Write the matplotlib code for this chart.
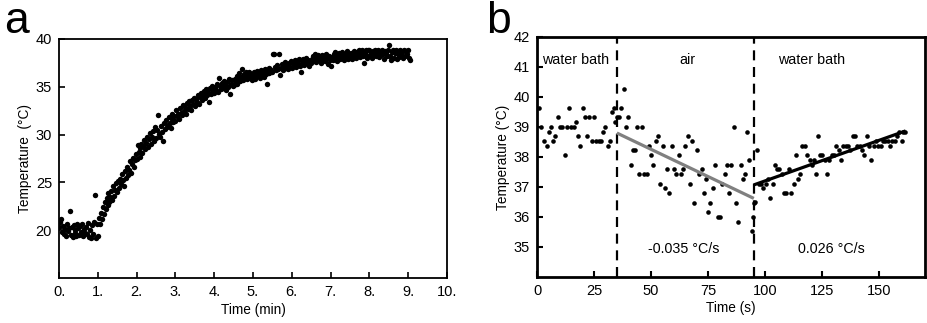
import numpy as np
import matplotlib
matplotlib.use("Agg")
import matplotlib.pyplot as plt

plt.rcParams['font.family'] = ['Liberation Sans', 'DejaVu Sans']

# panel a: heating curve, one sample every 0.025 min
step_min = 0.025
temp_a = [
    20.3, 20.9, 21.2, 19.8, 20.4, 19.6, 20.1, 19.4, 20.6, 19.9, 20.2, 22.0, 19.5, 20.3, 19.3, 20.5, 19.7, 20.0, 19.4, 20.6,
    20.2, 19.5, 20.4, 19.8, 20.6, 19.4, 20.1, 19.7, 20.3, 19.6, 20.8, 19.3, 20.0, 19.2, 20.5, 19.6, 20.9, 23.7, 19.2, 20.7,
    19.4, 21.3, 20.6, 21.8, 21.2, 22.4, 21.7, 22.9, 22.2, 23.4, 22.6, 23.9, 22.9, 23.5, 24.1, 23.2, 24.6, 23.6, 24.2, 24.9,
    24.0, 25.1, 24.4, 25.4, 24.8, 25.9, 25.2, 24.6, 26.2, 25.5, 26.6, 25.8, 26.3, 27.2, 26.0, 26.9, 27.5, 26.6, 27.3, 28.0,
    27.4, 28.9, 28.2, 27.7, 28.6, 29.0, 28.1, 28.8, 29.4, 28.5, 29.1, 29.7, 28.7, 29.5, 30.2, 29.0, 29.8, 30.4, 29.3, 30.8,
    29.6, 30.5, 32.0, 30.1, 29.8, 30.9, 30.3, 29.3, 31.2, 30.6, 31.5, 30.8, 31.0, 31.8, 31.2, 30.7, 31.6, 32.2, 31.3, 31.9,
    31.4, 32.6, 31.9, 32.2, 31.6, 32.8, 32.3, 32.0, 33.1, 32.5, 32.9, 32.2, 33.3, 32.7, 33.5, 33.0, 32.6, 33.6, 33.2, 33.8,
    33.0, 33.7, 33.4, 34.1, 33.2, 33.9, 34.4, 33.6, 34.0, 34.6, 33.8, 34.3, 34.8, 34.1, 34.5, 33.4, 34.9, 34.2, 35.1, 34.6,
    34.4, 35.0, 34.7, 35.3, 34.5, 35.9, 35.1, 34.8, 35.4, 34.9, 35.6, 35.2, 34.7, 35.5, 35.0, 35.8, 34.2, 35.3, 35.7, 35.1,
    35.2, 35.8, 35.5, 36.1, 35.3, 35.9, 36.4, 35.6, 36.0, 36.9, 35.7, 36.3, 35.9, 36.5, 35.8, 36.2, 36.6, 35.9, 36.3, 35.7,
    36.0, 36.5, 35.8, 36.3, 36.7, 36.1, 36.4, 35.9, 36.8, 36.2, 36.6, 36.0, 36.9, 36.3, 35.3, 36.7, 36.4, 37.0, 36.5, 36.8,
    36.6, 38.4, 38.4, 37.1, 36.8, 37.3, 36.9, 38.4, 36.2, 37.0, 37.4, 36.8, 37.2, 37.6, 37.0, 37.3, 36.9, 37.5, 37.1, 37.7,
    37.0, 37.5, 37.3, 37.8, 37.1, 37.6, 37.4, 37.9, 37.2, 36.5, 37.7, 37.4, 37.9, 37.3, 37.6, 38.0, 37.5, 37.8, 37.2, 37.7,
    37.5, 37.9, 38.2, 37.7, 38.4, 37.6, 38.0, 38.3, 37.8, 38.1, 37.5, 38.3, 37.9, 38.2, 37.7, 38.4, 38.0, 37.4, 38.2, 37.8,
    37.2, 38.1, 37.8, 38.4, 37.9, 38.6, 38.0, 37.7, 38.3, 38.5, 37.9, 38.2, 38.6, 38.0, 37.8, 38.4, 38.1, 38.7, 37.9, 38.3,
    38.1, 38.5, 37.9, 38.3, 38.7, 38.2, 38.0, 38.6, 38.4, 38.8, 38.1, 38.5, 38.9, 38.2, 37.5, 38.6, 38.3, 38.8, 38.0, 38.9,
    38.8, 38.3, 38.6, 38.0, 38.7, 38.4, 38.9, 38.2, 38.5, 38.8, 38.1, 38.6, 38.3, 38.9, 38.4, 37.9, 38.7, 38.5, 38.2, 38.8,
    39.4, 38.2, 37.8, 38.6, 38.9, 38.0, 38.5, 38.8, 37.9, 38.4, 38.7, 38.1, 38.9, 38.3, 38.6, 38.0, 38.8, 38.2, 38.7, 38.4,
    38.8, 38.0, 37.8,
]
time_a = np.arange(len(temp_a)) * step_min
xticks_a = [0, 1, 2, 3, 4, 5, 6, 7, 8, 9, 10]
xticklabels_a = ['0.', '1.', '2.', '3.', '4.', '5.', '6.', '7.', '8.', '9.', '10.']
yticks_a = [20, 25, 30, 35, 40]

# panel b: water bath / air / water bath
time_b = [0.7, 1.9, 3.2, 4.2, 5.1, 6.3, 7.2, 8.0, 9.2, 10.1, 11.1, 12.1, 13.0, 14.0, 15.0, 16.0, 16.9,
          18.0, 19.0, 20.0, 20.9, 21.9, 22.9, 23.9, 25.0, 26.0, 27.0, 28.0, 28.9, 29.9, 30.9, 32.0, 33.0,
          33.9, 34.3, 34.9,
          35.9, 37.0, 37.9, 39.0, 40.0, 41.0, 42.0, 43.0, 43.9, 44.9, 46.0, 47.0, 48.0, 49.0, 50.0, 51.0,
          52.0, 53.0, 54.0, 55.0, 56.0, 57.0, 58.0, 59.1, 60.1, 61.0, 62.0, 63.0, 64.0, 65.0, 66.1, 67.1,
          68.0, 69.0, 70.0, 71.1, 72.1, 73.1, 74.1, 75.0, 76.0, 77.0, 78.1, 79.1, 80.1, 81.1, 82.2, 83.2,
          84.2, 85.2, 86.1, 87.1, 88.1, 89.2, 90.2, 91.1, 92.0, 93.0, 94.0, 94.7, 94.9,
          95.3, 96.3, 97.3, 98.3, 99.2, 100.2, 101.3, 102.3, 103.3, 104.2, 105.2, 106.2, 107.3, 108.3,
          109.3, 110.3, 111.3, 112.4, 113.4, 114.4, 115.4, 116.3, 117.3, 118.3, 119.4, 120.4, 121.4,
          122.4, 123.2, 124.0, 125.0, 126.1, 127.1, 128.1, 129.1, 130.2, 131.2, 132.2, 133.2, 134.2,
          135.3, 136.3, 137.3, 138.3, 139.4, 140.4, 141.4, 142.4, 143.4, 144.5, 145.5, 146.5, 147.5,
          148.5, 149.6, 150.6, 151.6, 152.6, 153.7, 154.7, 155.7, 156.7, 157.7, 158.8, 159.8, 160.2, 161.2]
temp_b = [39.64, 39.0, 38.53, 38.37, 38.84, 39.0, 38.53, 38.7, 39.33, 39.0, 39.0, 38.07, 39.0, 39.64, 39.0,
          39.0, 39.17, 38.7, 38.37, 39.64, 39.33, 38.7, 39.33, 38.53, 39.33, 38.53, 38.53, 38.53, 38.84,
          39.0, 38.37, 38.53, 39.5, 39.64, 39.17, 39.33,
          39.33, 39.64, 40.28, 39.0, 39.33, 37.73, 38.22, 38.22, 39.0, 37.44, 39.0, 37.44, 37.44, 38.37,
          38.07, 37.73, 38.53, 38.7, 37.11, 38.37, 36.96, 37.59, 36.81, 38.37, 37.59, 37.44, 38.07, 37.44,
          37.59, 38.37, 38.7, 37.11, 38.53, 36.48, 38.22, 37.44, 37.59, 36.81, 37.28, 36.18, 36.48, 36.96,
          37.73, 36.0, 36.0, 37.11, 37.44, 37.73, 36.81, 37.73, 39.0, 36.48, 35.84, 37.73, 37.28, 37.44,
          38.84, 37.89, 35.53, 36.0, 36.46,
          36.51, 38.22, 37.11, 37.11, 36.96, 37.11, 37.26, 36.62, 37.11, 37.73, 37.59, 37.59, 37.44, 36.81,
          36.81, 37.59, 36.81, 37.11, 38.07, 37.26, 37.44, 38.37, 38.37, 38.07, 37.89, 37.73, 37.89, 37.44,
          38.7, 38.07, 38.07, 37.89, 37.44, 37.89, 38.07, 38.07, 38.37, 38.22, 37.89, 38.37, 38.37, 38.37,
          38.22, 38.7, 38.7, 38.37, 38.37, 38.22, 38.07, 38.7, 38.37, 37.89, 38.37, 38.53, 38.37, 38.37,
          38.53, 38.53, 38.53, 38.37, 38.53, 38.53, 38.7, 38.84, 38.53, 38.84, 38.84]
phase_bounds = [35, 95]
air_fit_t = [35, 95]
air_fit_T = [38.8, 36.62]
bath_fit_t = [95, 161.5]
bath_fit_T = [37.07, 38.87]
xticks_b = [0, 25, 50, 75, 100, 125, 150]
yticks_b = [35, 36, 37, 38, 39, 40, 41, 42]

fig = plt.figure(figsize=(9.27, 3.23), dpi=100)
ax1 = fig.add_axes([59 / 927, 1 - 278 / 323, 388 / 927, 239 / 323])
ax2 = fig.add_axes([537 / 927, 1 - 277 / 323, 388 / 927, 240 / 323])

# --- a ---
ax1.plot(time_a, temp_a, 'o', color='black', ms=3.9, mew=0)
ax1.set_xlim(0, 10)
ax1.set_ylim(15, 40)
ax1.set_xticks(xticks_a)
ax1.set_xticklabels(xticklabels_a)
ax1.set_yticks(yticks_a)
ax1.set_xlabel('Time (min)', fontsize=9.8, labelpad=3)
ax1.set_ylabel('Temperature  (°C)', fontsize=9.8, labelpad=3)
for s in ax1.spines.values():
    s.set_linewidth(1.3)
ax1.tick_params(direction='in', length=4, width=1.2, labelsize=10.5, pad=5)

# --- b ---
for xb in phase_bounds:
    ax2.axvline(xb, color='black', lw=1.6, ls=(0, (4.5, 3)))
ax2.plot(time_b, temp_b, 'o', color='black', ms=3.3, mew=0)
ax2.plot(air_fit_t, air_fit_T, color='#808080', lw=2.3, solid_capstyle='butt')
ax2.plot(bath_fit_t, bath_fit_T, color='black', lw=2.3, solid_capstyle='butt')
ax2.set_xlim(0, 170)
ax2.set_ylim(34, 42)
ax2.set_xticks(xticks_b)
ax2.set_yticks(yticks_b)
ax2.set_xlabel('Time (s)', fontsize=9.8, labelpad=2)
ax2.set_ylabel('Temperature (°C)', fontsize=9.8, labelpad=3)
for s in ax2.spines.values():
    s.set_linewidth(2.0)
ax2.tick_params(direction='in', length=4, width=1.5, labelsize=10.5, pad=5)

ax2.text(17, 41.23, 'water bath', ha='center', va='center', fontsize=10.3)
ax2.text(65.7, 41.23, 'air', ha='center', va='center', fontsize=10.3)
ax2.text(120.4, 41.23, 'water bath', ha='center', va='center', fontsize=10.3)
ax2.text(64.4, 34.94, '-0.035 °C/s', ha='center', va='center', fontsize=10.3)
ax2.text(129.1, 34.94, '0.026 °C/s', ha='center', va='center', fontsize=10.3)

fig.text(4 / 927, 1 - 33 / 323, 'a', fontsize=32, ha='left', va='baseline')
fig.text(486 / 927, 1 - 33 / 323, 'b', fontsize=32, ha='left', va='baseline')

fig.savefig('out.png', dpi=100)
